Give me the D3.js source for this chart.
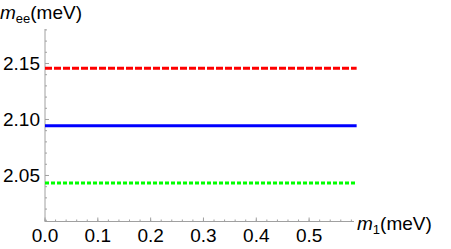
<!DOCTYPE html>
<html>
<head>
<meta charset="utf-8">
<script src="https://cdn.jsdelivr.net/npm/d3@7"></script>
<style>
  body { margin: 0; background: #fff; }
</style>
</head>
<body>
<div id="chart"></div>
<script>
  // chart values
  var m1Values = [0.0, 0.1, 0.2, 0.3, 0.4, 0.5, 0.59];
  var redValues = [2.1457, 2.1457, 2.1457, 2.1457, 2.1457, 2.1457, 2.1457];
  var blueValues = [2.0945, 2.0945, 2.0945, 2.0945, 2.0945, 2.0945, 2.0945];
  var greenValues = [2.0432, 2.0432, 2.0432, 2.0432, 2.0432, 2.0432, 2.0432];
  var xTicks = [0.0, 0.1, 0.2, 0.3, 0.4, 0.5];
  var yTicks = [2.05, 2.10, 2.15];

  var svgWidth = 451;
  var svgHeight = 249;
  var fontFam = "'Liberation Sans', Arial, sans-serif";

  var svg = d3.select("#chart")
    .append("svg")
    .attr("width", svgWidth)
    .attr("height", svgHeight)
    .style("font-family", fontFam);

  var xScale = d3.scaleLinear()
    .domain([0, 0.585])
    .range([45, 354]);

  var yScale = d3.scaleLinear()
    .domain([2.0089, 2.1808])
    .range([221.5, 29]);

  var axisColor = "#a0a0a0";

  // x axis line + ticks (pointing inward, Mathematica style)
  svg.append("line")
    .attr("x1", xScale.range()[0]).attr("x2", xScale.range()[1])
    .attr("y1", yScale.range()[0]).attr("y2", yScale.range()[0])
    .attr("stroke", axisColor).attr("stroke-width", 1);

  var xMinor = d3.range(0, 0.585, 0.02);
  svg.selectAll("line.xminor")
    .data(xMinor)
    .enter().append("line")
    .attr("class", "xminor")
    .attr("x1", d => xScale(d)).attr("x2", d => xScale(d))
    .attr("y1", yScale.range()[0]).attr("y2", yScale.range()[0] - 2)
    .attr("stroke", axisColor);

  svg.selectAll("line.xmajor")
    .data(xTicks)
    .enter().append("line")
    .attr("class", "xmajor")
    .attr("x1", d => xScale(d)).attr("x2", d => xScale(d))
    .attr("y1", yScale.range()[0]).attr("y2", yScale.range()[0] - 4)
    .attr("stroke", axisColor);

  svg.selectAll("text.xlab")
    .data(xTicks)
    .enter().append("text")
    .attr("class", "xlab")
    .attr("x", d => xScale(d))
    .attr("y", 242)
    .attr("text-anchor", "middle")
    .style("font-size", "19px")
    .text(d => d.toFixed(1));

  // y axis line + ticks
  svg.append("line")
    .attr("x1", xScale.range()[0]).attr("x2", xScale.range()[0])
    .attr("y1", yScale.range()[0]).attr("y2", yScale.range()[1])
    .attr("stroke", axisColor).attr("stroke-width", 1);

  var yMinor = d3.range(2.01, 2.181, 0.01);
  svg.selectAll("line.yminor")
    .data(yMinor)
    .enter().append("line")
    .attr("class", "yminor")
    .attr("x1", xScale.range()[0]).attr("x2", xScale.range()[0] + 2)
    .attr("y1", d => yScale(d)).attr("y2", d => yScale(d))
    .attr("stroke", axisColor);

  svg.selectAll("line.ymajor")
    .data(yTicks)
    .enter().append("line")
    .attr("class", "ymajor")
    .attr("x1", xScale.range()[0]).attr("x2", xScale.range()[0] + 4)
    .attr("y1", d => yScale(d)).attr("y2", d => yScale(d))
    .attr("stroke", axisColor);

  svg.selectAll("text.ylab")
    .data(yTicks)
    .enter().append("text")
    .attr("class", "ylab")
    .attr("x", 40)
    .attr("y", d => yScale(d))
    .attr("dy", "0.35em")
    .attr("text-anchor", "end")
    .style("font-size", "19px")
    .text(d => d.toFixed(2));

  // series lines
  var line = d3.line()
    .x(d => xScale(d[0]))
    .y(d => yScale(d[1]));

  var series = [
    { values: redValues, color: "#ff0000", dash: "7,2" },
    { values: blueValues, color: "#0000ff", dash: null },
    { values: greenValues, color: "#00ff00", dash: "4,2" }
  ];

  series.forEach(function(s) {
    svg.append("path")
      .datum(m1Values.map((m, i) => [m, s.values[i]]))
      .attr("d", line)
      .attr("fill", "none")
      .attr("stroke", s.color)
      .attr("stroke-width", 3)
      .attr("stroke-dasharray", s.dash);
  });

  // axis titles
  var yTitle = svg.append("text")
    .attr("x", 0)
    .attr("y", 19)
    .style("font-size", "19px");
  yTitle.append("tspan").style("font-style", "italic").text("m");
  yTitle.append("tspan").style("font-size", "13px").attr("dy", 4).text("ee");
  yTitle.append("tspan").attr("dy", -4).text("(meV)");

  var xTitle = svg.append("text")
    .attr("x", 357)
    .attr("y", 230)
    .style("font-size", "19px");
  xTitle.append("tspan").style("font-style", "italic").text("m");
  xTitle.append("tspan").style("font-size", "13px").attr("dy", 4).text("1");
  xTitle.append("tspan").attr("dy", -4).text("(meV)");
</script>
</body>
</html>
